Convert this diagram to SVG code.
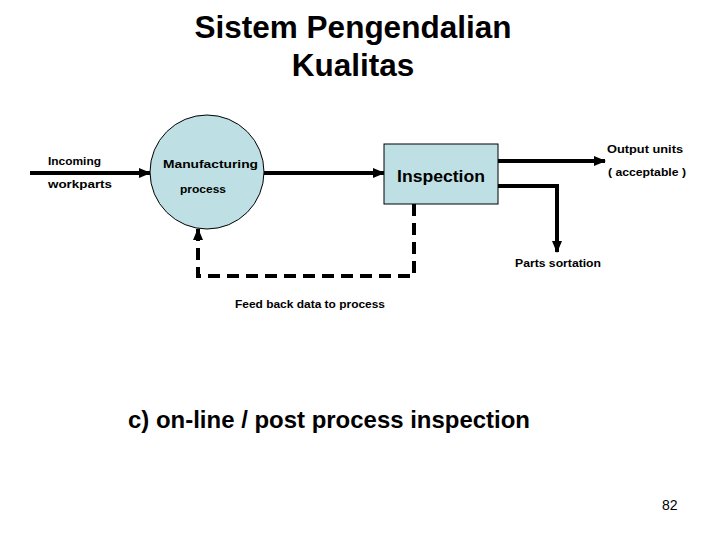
<svg xmlns="http://www.w3.org/2000/svg" width="720" height="540" viewBox="0 0 720 540">
<style>
.t{font-family:"Liberation Sans",Arial,sans-serif;fill:#000}
.b{font-weight:bold}
.ln{fill:none;stroke:#000;stroke-width:4}
.dash{stroke-dasharray:12 7}
.node{fill:#BEE0E4;stroke:#000;stroke-width:1}
</style>
<defs>
<marker id="ah" markerUnits="userSpaceOnUse" markerWidth="12" markerHeight="10" refX="11" refY="5" orient="auto">
<path d="M0,0 L12,5 L0,10 Z" fill="#000"/>
</marker>
</defs>
<rect width="720" height="540" fill="#fff"/>
<g id="title">
<text class="t b" x="353" y="38" font-size="31.5" text-anchor="middle">Sistem Pengendalian</text>
<text class="t b" x="353" y="76" font-size="31.5" text-anchor="middle">Kualitas</text>
</g>
<g id="connectors">
<line class="ln" x1="30" y1="173" x2="150" y2="173" marker-end="url(#ah)"/>
<line class="ln" x1="264" y1="173" x2="384" y2="173" marker-end="url(#ah)"/>
<line class="ln" x1="498" y1="161" x2="605" y2="161" marker-end="url(#ah)"/>
<path class="ln" d="M498,186 H557 V252" marker-end="url(#ah)"/>
<path class="ln dash" d="M414,204 V276 H198 V229" marker-end="url(#ah)"/>
</g>
<g id="incoming">
<text class="t b" x="48" y="165" font-size="11.5" textLength="53" lengthAdjust="spacingAndGlyphs">Incoming</text>
<text class="t b" x="48" y="188" font-size="11.5" textLength="64" lengthAdjust="spacingAndGlyphs">workparts</text>
</g>
<g id="manufacturing">
<circle class="node" cx="207" cy="172" r="57"/>
<text class="t b" x="163" y="168" font-size="11.5" textLength="95" lengthAdjust="spacingAndGlyphs">Manufacturing</text>
<text class="t b" x="180" y="193" font-size="11.5" textLength="46" lengthAdjust="spacingAndGlyphs">process</text>
</g>
<g id="inspection">
<rect class="node" x="384" y="144" width="114" height="60"/>
<text class="t b" x="397" y="182" font-size="17" textLength="88" lengthAdjust="spacingAndGlyphs">Inspection</text>
</g>
<g id="output">
<text class="t b" x="607" y="153" font-size="11.5" textLength="76" lengthAdjust="spacingAndGlyphs">Output  units</text>
<text class="t b" x="608" y="176" font-size="11.5" textLength="78" lengthAdjust="spacingAndGlyphs">( acceptable )</text>
</g>
<g id="sortation">
<text class="t b" x="515" y="267" font-size="11.5" textLength="86" lengthAdjust="spacingAndGlyphs">Parts sortation</text>
</g>
<g id="feedback">
<text class="t b" x="235" y="308" font-size="11.5" textLength="150" lengthAdjust="spacingAndGlyphs">Feed back data to process</text>
</g>
<text class="t b" x="128" y="428" font-size="24" textLength="402" lengthAdjust="spacingAndGlyphs">c) on-line / post process inspection</text>
<text class="t" x="662" y="510" font-size="14">82</text>
</svg>
